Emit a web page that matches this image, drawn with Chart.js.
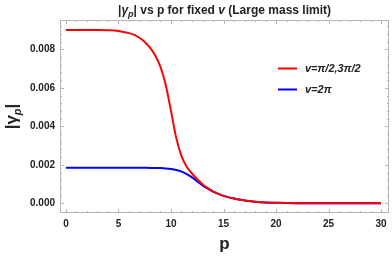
<!DOCTYPE html>
<html>
<head>
<meta charset="utf-8">
<script src="https://cdn.jsdelivr.net/npm/chart.js@4/dist/chart.umd.min.js"></script>
<style>
html,body{margin:0;padding:0;background:#fff;}
#wrap{width:392px;height:256px;position:relative;}
</style>
</head>
<body>
<div id="wrap"><canvas id="c" width="392" height="256"></canvas></div>
<script>
const pValues = [0,1,2,3,4,5,6,6.5,7,7.5,8,8.5,9,9.5,10,10.5,11,11.5,12,12.5,13,13.5,14,14.5,15,15.5,16,17,18,19,20,22,25,30];
const redValues = [0.00900,0.00900,0.00900,0.00900,0.00899,0.00895,0.00884,0.00875,0.00860,0.00838,0.00808,0.00768,0.00708,0.00615,0.00480,0.00340,0.00245,0.00190,0.00155,0.00125,0.00099,0.00079,0.00062,0.00049,0.00039,0.00031,0.00025,0.00015,0.00009,0.00005,0.00003,0.00001,0.0,0.0];
const blueValues = [0.00185,0.00185,0.00185,0.00185,0.00185,0.00185,0.00185,0.00185,0.00185,0.00185,0.00184,0.00184,0.00183,0.00181,0.00178,0.00173,0.00165,0.00152,0.00135,0.00114,0.00093,0.00076,0.00061,0.00049,0.00039,0.00031,0.00025,0.00015,0.00009,0.00005,0.00003,0.00001,0.0,0.0];
const seriesLabels = ["v=π/2,3π/2", "v=2π"];
const xTicks = [0,5,10,15,20,25,30];
const yTicks = [0,0.002,0.004,0.006,0.008];

const FONT = "'Liberation Sans', Arial, sans-serif";

const decor = {
  id: 'decor',
  afterDatasetsDraw(chart) {
    const ctx = chart.ctx;
    const a = chart.chartArea;
    const xs = chart.scales.x, ys = chart.scales.y;
    ctx.save();
    // frame
    ctx.strokeStyle = '#b4b4b4';
    ctx.lineWidth = 1;
    ctx.strokeRect(Math.round(a.left) + 0.5, Math.round(a.top) + 0.5, Math.round(a.right - a.left) - 1, Math.round(a.bottom - a.top) - 1);
    // ticks
    ctx.beginPath();
    for (let v = 0; v <= 30.001; v += 1) {
      const x = Math.round(xs.getPixelForValue(v)) + 0.5;
      const len = (Math.abs(v % 5) < 1e-6) ? 4 : 2;
      ctx.moveTo(x, a.bottom); ctx.lineTo(x, a.bottom - len);
      ctx.moveTo(x, a.top); ctx.lineTo(x, a.top + len);
    }
    for (let i = 0; i <= 23; i++) {
      const v = i * 0.0004;
      if (v > 0.0095) break;
      const y = Math.round(ys.getPixelForValue(v)) + 0.5;
      const len = (i % 5 === 0) ? 4 : 2;
      ctx.moveTo(a.left, y); ctx.lineTo(a.left + len, y);
      ctx.moveTo(a.right, y); ctx.lineTo(a.right - len, y);
    }
    ctx.stroke();

    ctx.fillStyle = '#222';
    // title with mixed styles
    const segs = [
      ['|', 'bold 12px ' + FONT, 0],
      ['γ', 'italic bold 12px ' + FONT, 0],
      ['p', 'italic bold 9px ' + FONT, 3],
      ['| vs p for fixed ', 'bold 12px ' + FONT, 0],
      ['v', 'italic bold 12px ' + FONT, 0],
      [' (Large mass limit)', 'bold 12px ' + FONT, 0]
    ];
    let total = 0;
    segs.forEach(s => { ctx.font = s[1]; total += ctx.measureText(s[0]).width; });
    let tx = (a.left + a.right) / 2 - total / 2;
    ctx.textBaseline = 'alphabetic';
    ctx.textAlign = 'left';
    segs.forEach(s => { ctx.font = s[1]; ctx.fillText(s[0], tx, 14 + s[2]); tx += ctx.measureText(s[0]).width; });

    // y axis label
    ctx.save();
    ctx.translate(17, (a.top + a.bottom) / 2);
    ctx.rotate(-Math.PI / 2);
    const ysegs = [
      ['|', 'bold 17px ' + FONT, 0],
      ['γ', 'bold 17px ' + FONT, 0],
      ['p', 'italic bold 11px ' + FONT, 4],
      ['|', 'bold 17px ' + FONT, 0]
    ];
    total = 0;
    ysegs.forEach(s => { ctx.font = s[1]; total += ctx.measureText(s[0]).width; });
    tx = -total / 2;
    ysegs.forEach(s => { ctx.font = s[1]; ctx.fillText(s[0], tx, 0 + s[2]); tx += ctx.measureText(s[0]).width; });
    ctx.restore();

    // x axis label
    ctx.font = 'bold 17px ' + FONT;
    ctx.textAlign = 'center';
    ctx.textBaseline = 'middle';
    ctx.fillText('p', (a.left + a.right) / 2, 244);

    // legend
    ctx.textAlign = 'left';
    chart.data.datasets.forEach((ds, i) => {
      const y = 68 + i * 21;
      ctx.strokeStyle = ds.borderColor;
      ctx.lineWidth = 2;
      ctx.beginPath(); ctx.moveTo(278, y + 0.5); ctx.lineTo(297, y + 0.5); ctx.stroke();
      ctx.fillStyle = '#222';
      ctx.font = 'italic bold 11px ' + FONT;
      ctx.fillText(ds.label, 305, y + 1);
    });
    ctx.restore();
  }
};

new Chart(document.getElementById('c'), {
  type: 'line',
  data: {
    datasets: [
      { label: seriesLabels[0], data: pValues.map((p, i) => ({x: p, y: redValues[i]})), borderColor: '#ff0000', borderWidth: 2, pointRadius: 0, cubicInterpolationMode: 'monotone', fill: false },
      { label: seriesLabels[1], data: pValues.map((p, i) => ({x: p, y: blueValues[i]})), borderColor: '#0000ff', borderWidth: 2, pointRadius: 0, cubicInterpolationMode: 'monotone', fill: false }
    ]
  },
  options: {
    responsive: false,
    animation: false,
    devicePixelRatio: 1,
    layout: { padding: { top: 20, right: 3, left: 0, bottom: 0 } },
    plugins: { legend: { display: false }, title: { display: false }, tooltip: { enabled: false } },
    scales: {
      x: {
        type: 'linear', min: -0.57, max: 30.76,
        grid: { display: false, drawTicks: false }, border: { display: false },
        afterBuildTicks: s => { s.ticks = xTicks.map(v => ({value: v})); },
        afterFit: s => { s.height = 43; },
        ticks: { color: '#222', font: { family: FONT, size: 10, weight: 'bold' }, padding: 5, maxRotation: 0, callback: v => String(v) }
      },
      y: {
        type: 'linear', min: -0.0005, max: 0.00952,
        grid: { display: false, drawTicks: false }, border: { display: false },
        afterBuildTicks: s => { s.ticks = yTicks.map(v => ({value: v})); },
        afterFit: s => { s.width = 60; },
        ticks: { color: '#222', font: { family: FONT, size: 10, weight: 'bold' }, padding: 5, callback: v => Number(v).toFixed(3) }
      }
    }
  },
  plugins: [decor]
});
</script>
</body>
</html>
